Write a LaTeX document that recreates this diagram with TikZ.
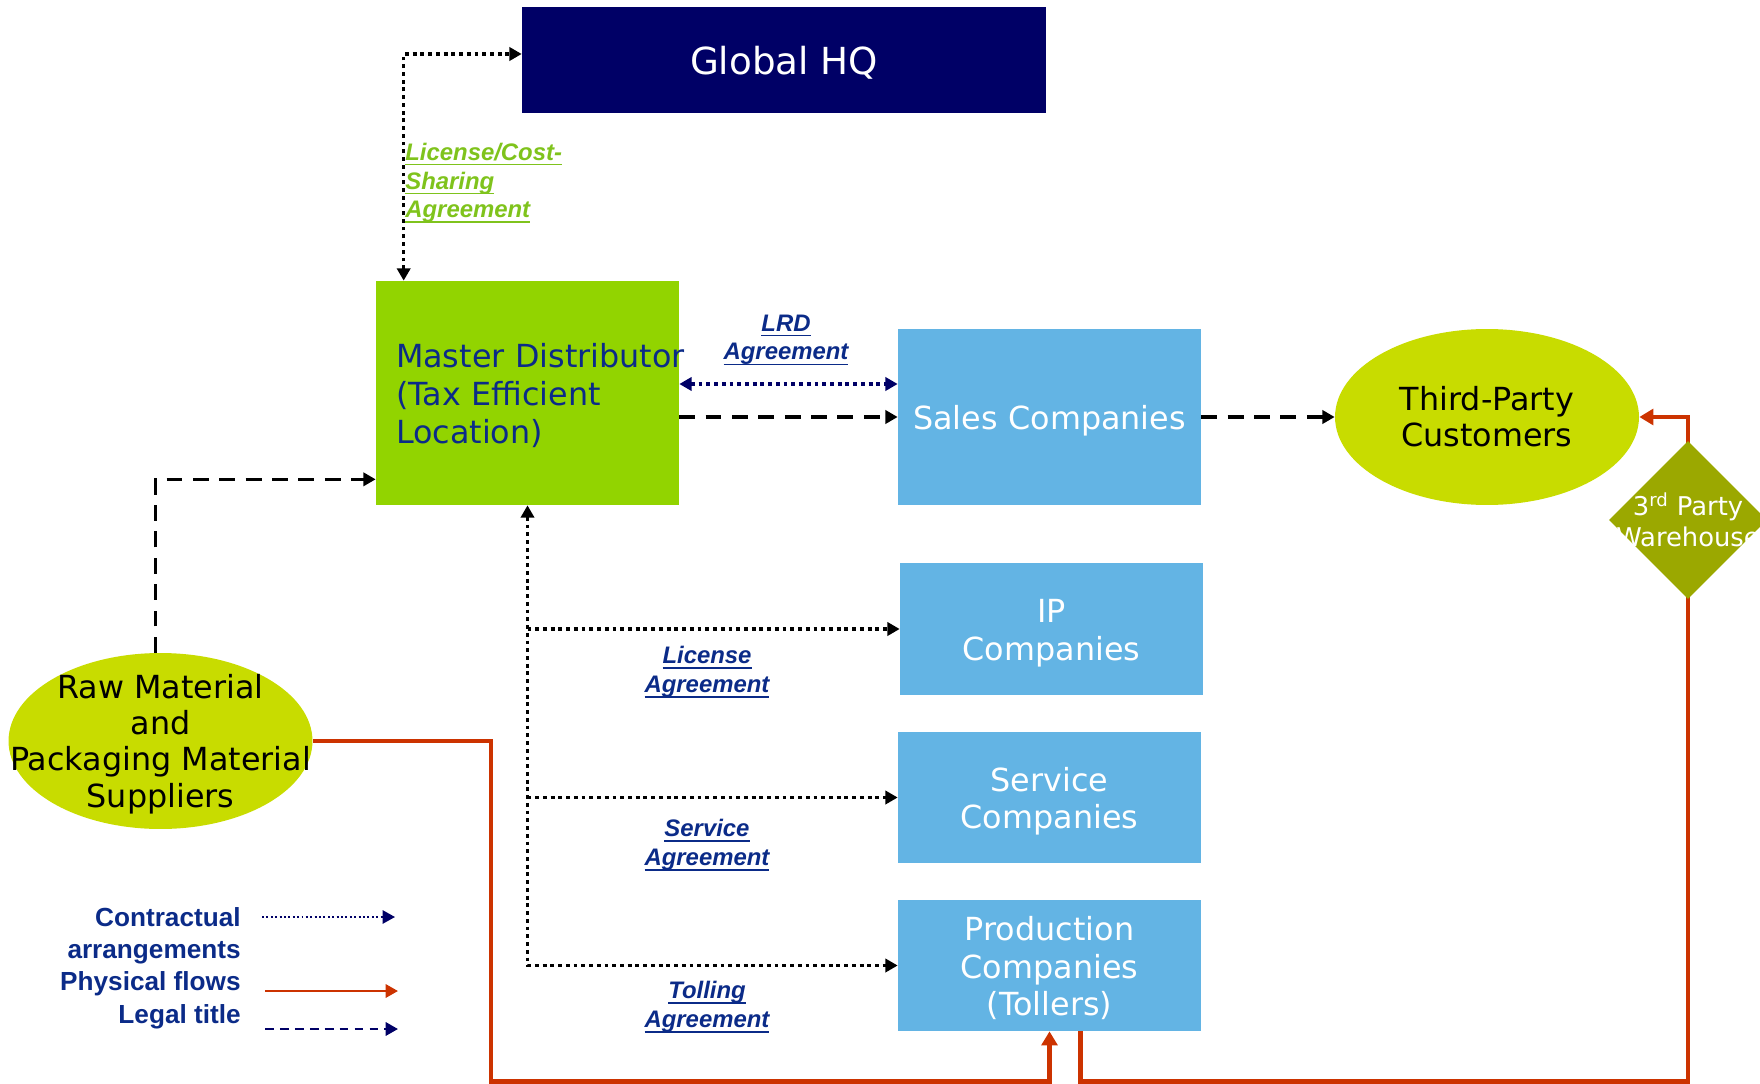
\documentclass[tikz,border=0pt]{standalone}
\usepackage{fontspec}
\setmainfont{DejaVu Sans}
\newfontfamily\arialfont{Liberation Sans}
\usetikzlibrary{arrows.meta, shapes.geometric, calc, backgrounds}
\definecolor{chq}{HTML}{000066}
\definecolor{cmd}{HTML}{92D400}
\definecolor{cco}{HTML}{63B4E4}
\definecolor{clime}{HTML}{C8DC00}
\definecolor{colive}{HTML}{9BA800}
\definecolor{cred}{HTML}{CC3300}
\definecolor{cnavy}{HTML}{0B2B88}
\definecolor{clab}{HTML}{7FC31C}
\newcommand\ulin[1]{\setbox0\hbox{#1}\rlap{\rule[-3pt]{\wd0}{1pt}}\box0}
\tikzset{
  every picture/.style={x=0.02cm, y=-0.02cm, >={Triangle[length=7pt, width=7.5pt]}},
  box/.style={fill=#1, inner sep=0pt, align=center, text=white, font=\fontsize{18.1}{21.5}\selectfont,
    execute at begin node={\rule{0pt}{1em}}, execute at end node={\rule[-0.21em]{0pt}{0pt}}},
  box/.default=cco,
  blob/.style={ellipse, fill=clime, inner sep=0pt, minimum width=6.08cm, minimum height=3.52cm, align=center, font=\fontsize{18.1}{20.6}\selectfont},
  blobtext/.style={inner sep=0pt, align=center, font=\fontsize{18.1}{20.6}\selectfont},
  ctr/.style={draw=black, line width=2pt, dash pattern=on 2.2pt off 2.2pt},
  legal/.style={draw=black, line width=1.8pt, dash pattern=on 9pt off 6pt, ->},
  phys/.style={draw=cred, line width=2.6pt, -{Triangle[length=8pt, width=9pt]}},
  agr/.style={font=\arialfont\bfseries\itshape\fontsize{13.6}{16.4}\selectfont, text=cnavy, align=center, inner sep=0pt},
  key/.style={font=\arialfont\bfseries\fontsize{14.9}{18.4}\selectfont, text=cnavy, align=right, inner sep=0pt},
}
\begin{document}
\begin{tikzpicture}[
  co/.style={box=cco, text width=6.06cm, minimum width=6.06cm},
  whtext/.style={inner sep=0pt, align=center, text=white, font=\fontsize{14.7}{17.6}\selectfont}]
  \useasboundingbox (0,0) rectangle (1760,1084);
  % ---- entities ----
  \node[box=chq, minimum width=10.48cm, minimum height=2.12cm, font=\fontsize{21.2}{24}\selectfont] (hq) at (784,60) {Global HQ};
  \node[box=cmd, text=cnavy, text width=5.26cm, inner xsep=0.4cm, minimum height=4.48cm, align=left] (md) at (527.5,393) {\mbox{Master Distributor}\\(Tax Efficient\\Location)};
  \node[co, minimum height=3.52cm] (sales) at (1049.5,417) {Sales Companies};
  \node[co, minimum height=2.64cm] (ip) at (1051.5,629) {IP\\Companies};
  \node[co, minimum height=2.62cm] (svc) at (1049.5,797.5) {Service\\Companies};
  \node[co, minimum height=2.62cm] (prod) at (1049.5,965.5) {Production\\Companies\\(Tollers)};
  \node[blob] (cust) at (1487,417) {Third-Party\\Customers};
  \node[blob] (raw) at (160.5,741) {};
  \node[blobtext] (rawtext) at ($(raw)+(0,3)$) {Raw Material\\and\\Packaging Material\\Suppliers};
  \node[diamond, fill=colive, minimum width=3.16cm, minimum height=3.16cm, inner sep=0pt] (wh) at (1688,520) {};
  \node[whtext] (whtext) at (wh) {3\textsuperscript{rd} Party\\Warehouse};
  % ---- agreements ----
  \node[agr, text=clab, anchor=west, align=left] (cslab) at (405,183) {\ulin{License/Cost-}\\\ulin{Sharing}\\\ulin{Agreement}};
  \node[agr] (lrdlab) at (786,340) {\ulin{LRD}\\\ulin{Agreement}};
  \node[agr] (liclab) at (707,672) {\ulin{License}\\\ulin{Agreement}};
  \node[agr] (svclab) at (707,845) {\ulin{Service}\\\ulin{Agreement}};
  \node[agr] (tollab) at (707,1007) {\ulin{Tolling}\\\ulin{Agreement}};
  % ---- connectors ----
  \draw[ctr, <->] ($(md.north west)+(28,0)$) |- ($(hq.west)+(0,-6)$);
  \draw[ctr, draw=chq, <->] ($(md.east)+(0,-9)$) coordinate (l1) -- (l1 -| sales.west);
  \draw[legal] (sales.west -| md.east) -- (sales.west);
  \draw[legal] (sales) -- (cust);
  \draw[legal] ($(raw.north)+(-5,0)$) |- ($(md.south west)+(0,-26)$);
  \draw[ctr, <->] (md.south) |- (prod.west);
  \foreach \n in {ip, svc} \draw[ctr, ->] (\n.west -| md.south) -- (\n.west);
  \begin{scope}[on background layer]
  \draw[phys] (raw.east) -- ++(178,0) |- ($(prod.south)+(0,50)$) -- (prod.south);
  \draw[phys] ($(prod.south)+(31,0)$) -- ++(0,50) -| (wh.center) |- (cust.east);
  \end{scope}
  % ---- key ----
  \node[key, anchor=east] (key) at (241,968) {Contractual\\arrangements\\Physical flows\\Legal title};
  \coordinate (k1a) at (262,917); \coordinate (k1b) at (395,917);
  \coordinate (k2a) at (265,991); \coordinate (k2b) at (398,991);
  \coordinate (k3a) at (265,1029); \coordinate (k3b) at (398,1029);
  \draw[draw=chq, line width=1.1pt, dash pattern=on 1.1pt off 1.4pt, ->] (k1a) -- (k1b);
  \draw[draw=cred, line width=1.4pt, ->] (k2a) -- (k2b);
  \draw[draw=chq, line width=1.5pt, dash pattern=on 5pt off 3.5pt, ->] (k3a) -- (k3b);
\end{tikzpicture}
\end{document}
